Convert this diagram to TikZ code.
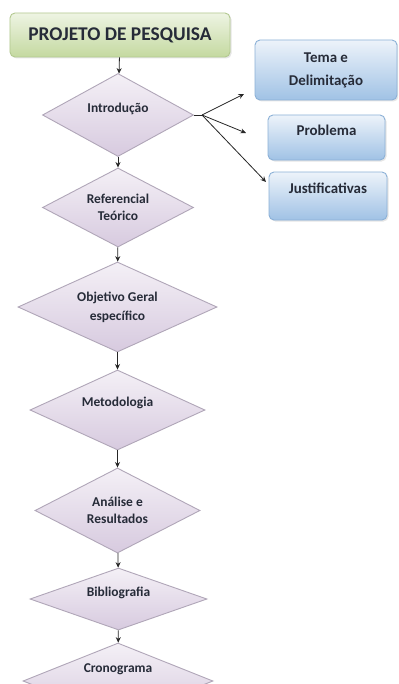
\documentclass[tikz,border=0pt]{standalone}
\usepackage{fontspec}
\setmainfont{Carlito}
\usetikzlibrary{shapes.geometric,arrows.meta,shadows}
\definecolor{txt}{HTML}{262B38}
\definecolor{dfill1}{HTML}{F4F0F6}
\definecolor{dfill2}{HTML}{D7CADF}
\definecolor{dline}{HTML}{B0A6B8}
\definecolor{bfill1}{HTML}{EDF3FA}
\definecolor{bfill2}{HTML}{A0C2E5}
\definecolor{bline}{HTML}{8CB1D7}
\definecolor{gfill1}{HTML}{EEF4E3}
\definecolor{gfill2}{HTML}{C4D9A0}
\definecolor{gline}{HTML}{B3C990}
\tikzset{
  dia/.style={diamond, aspect=2, inner sep=0pt, draw=dline, line width=0.9bp,
    top color=dfill1, bottom color=dfill2, text=txt, align=center,
    font=\fontsize{13.5}{17}\selectfont\bfseries},
  bluebox/.style={rectangle, rounded corners=5bp, draw=bline, line width=0.9bp,
    top color=bfill1, bottom color=bfill2, text=txt, align=center,
    font=\fontsize{15}{20}\selectfont\bfseries,
    drop shadow={opacity=0.2, shadow xshift=1.5bp, shadow yshift=-1.5bp}},
  titlebox/.style={rectangle, rounded corners=5bp, draw=gline, line width=0.9bp,
    top color=gfill1, bottom color=gfill2, text=txt,
    font=\fontsize{19.5}{22}\selectfont\bfseries,
    drop shadow={opacity=0.2, shadow xshift=1.5bp, shadow yshift=-1.5bp}},
  arr/.style={-{Stealth[length=5.5bp,width=5bp]}, line width=0.8bp, black!85},
}
\begin{document}
\begin{tikzpicture}[x=1bp,y=-1bp]
\useasboundingbox (0,0) rectangle (398,684);
\fill[white] (0,0) rectangle (398,684);
\begin{scope}
\clip (0,0) rectangle (398,684);
\node[titlebox, minimum width=220bp, minimum height=44bp] (title) at (120,35) {PROJETO DE PESQUISA};

\node[dia, minimum width=151bp, minimum height=83bp] (intro) at (118,115) {Introdução\\[-3bp]};
\node[dia, minimum width=151bp, minimum height=79bp] (ref) at (118,207.5) {Referencial\\Teórico};
\node[dia, minimum width=199bp, minimum height=90bp] (obj) at (117.5,307) {Objetivo Geral\\[2bp]específico};
\node[dia, minimum width=175bp, minimum height=80bp] (met) at (117.5,410) {Metodologia\\[-1bp]};
\node[dia, minimum width=165bp, minimum height=85bp] (ana) at (117.5,510.5) {Análise e\\Resultados};
\node[dia, minimum width=177bp, minimum height=62bp] (bib) at (118.5,599) {Bibliografia\\[-3bp]};
\node[dia, minimum width=190bp, minimum height=76bp] (cro) at (118,681) {Cronograma\\[9bp]};

\node[bluebox, minimum width=142bp, minimum height=60bp] (tema) at (326,70) {Tema e\\[3bp]Delimitação};
\node[bluebox, minimum width=117bp, minimum height=45bp] (prob) at (326.5,137.5) {Problema\\[-5bp]};
\node[bluebox, minimum width=118bp, minimum height=48bp] (just) at (328,196) {Justificativas\\[-4bp]};

\draw[arr] (title) -- (intro);
\draw[arr] (intro) -- (ref);
\draw[arr] (ref) -- (obj);
\draw[arr] (obj) -- (met);
\draw[arr] (met) -- (ana);
\draw[arr] (ana) -- (bib);
\draw[arr] (bib) -- (cro);

\coordinate (fork) at (202,115);
\coordinate (t1) at (244,94);
\coordinate (t2) at (246,133);
\coordinate (t3) at (266,182);
\draw[line width=0.8bp, black!85] (intro.east) -- (fork);
\draw[arr] (fork) -- (t1);
\draw[arr] (fork) -- (t2);
\draw[arr] (fork) -- (t3);
\end{scope}
\end{tikzpicture}
\end{document}
